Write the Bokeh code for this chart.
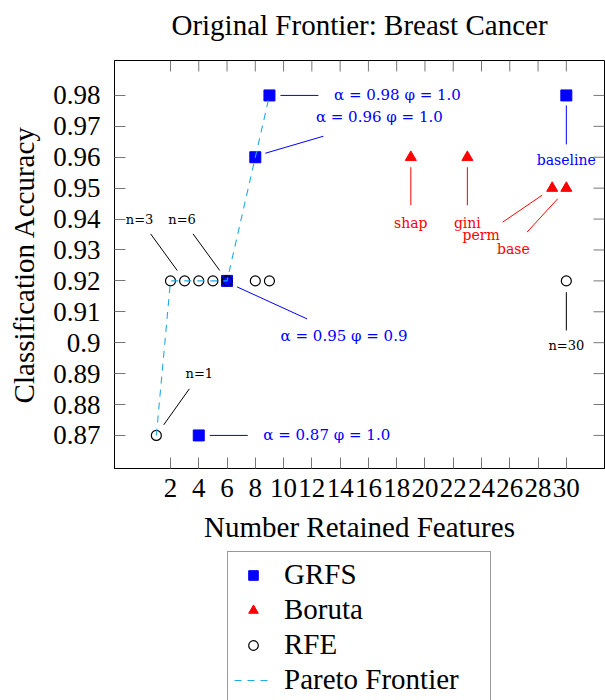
from bokeh.plotting import figure
from bokeh.layouts import column
from bokeh.models import (Range1d, FixedTicker, CustomJSTickFormatter,
                          Legend, LegendItem, Label, ColumnDataSource)
from bokeh.embed import file_html
from bokeh.resources import INLINE

# ---------------- data ----------------
grfs_x = [9, 8, 6, 4, 30]
grfs_y = [0.98, 0.96, 0.92, 0.87, 0.98]

boruta_x = [19, 23, 29, 30]
boruta_y = [0.96, 0.96, 0.95, 0.95]

rfe_x = [1, 2, 3, 4, 5, 6, 8, 9, 30]
rfe_y = [0.87, 0.92, 0.92, 0.92, 0.92, 0.92, 0.92, 0.92, 0.92]

pareto_x = [1, 2, 3, 4, 5, 6, 8, 9]
pareto_y = [0.87, 0.92, 0.92, 0.92, 0.92, 0.92, 0.96, 0.98]

x_ticks = [2, 4, 6, 8, 10, 12, 14, 16, 18, 20, 22, 24, 26, 28, 30]
y_ticks = [0.87, 0.88, 0.89, 0.90, 0.91, 0.92, 0.93, 0.94, 0.95, 0.96, 0.97, 0.98]

series_names = ["GRFS", "Boruta", "RFE", "Pareto Frontier"]

pin_text = ["α = 0.98 φ = 1.0", "α = 0.96 φ = 1.0", "α = 0.95 φ = 0.9", "α = 0.87 φ = 1.0",
            "baseline", "shap", "gini", "perm", "base", "n=3", "n=6", "n=1", "n=30"]
pin_x = [9, 8, 6, 4, 30, 19, 23, 29, 30, 3, 6, 1, 30]
pin_y = [0.98, 0.96, 0.92, 0.87, 0.98, 0.96, 0.96, 0.95, 0.95, 0.92, 0.92, 0.87, 0.92]

# ---------------- style ----------------
BLUE = "#0000FF"
RED = "#FF0000"
CYAN = "#22AAE6"
TICK = "#777777"
SERIF = "Liberation Serif"
ANN_FONT = "DejaVu Serif"

pin_color = [BLUE] * 5 + [RED] * 4 + ["black"] * 4
pin_size = ["15px"] * 4 + ["14px"] * 5 + ["13px"] * 4
# pin offsets in screen pixels (x right, y down): line start, line end, text centre
pin_geom = [
    (11, 0, 49, 0, 128, 0),
    (10, -4, 68, -21, 124, -40),
    (10, 6, 80, 38, 117, 55),
    (11, 0, 49, 0, 128, 0),
    (0, 10, 0, 49, 0, 65),
    (0, 10, 0, 48, 0, 66),
    (0, 10, 0, 48, 0, 66),
    (-10, 7, -49.5, 34, -71, 47),
    (-8.6, 10.6, -39.3, 44, -53, 61),
    (-7.4, -10.4, -34, -47, -45, -61),
    (-7.3, -10.4, -34, -47, -45, -61),
    (7.4, -10.6, 33, -46.6, 43, -62),
    (0, 11.3, 0, 49.6, 0, 65),
]

W = 605
TITLE_H, MAIN_H, LEG_H = 60, 490, 150
BL, BR, BT, BB = 114, 1, 0, 82
X0, X1 = -1.96, 32.7
Y0, Y1 = 0.8593, 0.9913
FW, FH = W - BL - BR, MAIN_H - BT - BB
sx = FW / (X1 - X0)
sy = FH / (Y1 - Y0)
TL = 11  # tick length in px

# ---------------- title strip ----------------
pt = figure(width=W, height=TITLE_H, output_backend="svg", toolbar_location=None,
            x_axis_location=None, y_axis_location=None,
            min_border_left=BL, min_border_right=BR, min_border_top=0, min_border_bottom=0,
            title="Original Frontier: Breast Cancer")
pt.outline_line_color = None
pt.xgrid.visible = False
pt.ygrid.visible = False
pt.title.text_font = SERIF
pt.title.text_font_size = "29px"
pt.title.text_font_style = "normal"
pt.title.align = "center"
pt.title.text_color = "black"
pt.title.standoff = 12

# ---------------- main plot ----------------
p = figure(width=W, height=MAIN_H,
           x_range=Range1d(X0, X1), y_range=Range1d(Y0, Y1),
           output_backend="svg", toolbar_location=None,
           min_border_left=BL, min_border_right=BR, min_border_top=BT, min_border_bottom=BB)
p.background_fill_color = "white"
p.border_fill_color = "white"
p.outline_line_color = "black"
p.xgrid.visible = False
p.ygrid.visible = False

for ax in (p.xaxis[0], p.yaxis[0]):
    ax.major_tick_in = TL
    ax.major_tick_out = 0
    ax.minor_tick_line_color = None
    ax.major_tick_line_color = TICK
    ax.axis_line_color = "black"
    ax.major_label_text_font = SERIF
    ax.major_label_text_color = "black"
    ax.major_label_text_font_size = "27px"
    ax.axis_label_text_font = SERIF
    ax.axis_label_text_font_style = "normal"
    ax.axis_label_text_color = "black"
    ax.axis_label_text_font_size = "29px"

xa = p.xaxis[0]
ya = p.yaxis[0]
xa.ticker = FixedTicker(ticks=x_ticks)
ya.ticker = FixedTicker(ticks=y_ticks)
ya.formatter = CustomJSTickFormatter(code="return (+tick.toFixed(2)).toString();")
xa.major_label_standoff = 10
ya.major_label_standoff = 14
xa.axis_label = "Number Retained Features"
ya.axis_label = "Classification Accuracy"
xa.axis_label_standoff = 11
ya.axis_label_standoff = 10

# mirrored ticks on top and right edges
p.segment(x0=x_ticks, y0=[Y1] * len(x_ticks), x1=x_ticks, y1=[Y1 - TL / sy] * len(x_ticks),
          line_color=TICK, line_width=1)
p.segment(x0=[X1] * len(y_ticks), y0=y_ticks, x1=[X1 - TL / sx] * len(y_ticks), y1=y_ticks,
          line_color=TICK, line_width=1)

# ---------------- marks ----------------
grfs_style = dict(marker="square", size=11, fill_color=BLUE, line_color=BLUE)
bor_style = dict(marker="triangle", size=11, fill_color=RED, line_color=RED)
rfe_style = dict(marker="circle", size=10, fill_color=None, line_color="black", line_width=1.2)
par_style = dict(line_color=CYAN, line_width=1.1, line_dash="7 6")

p.scatter(grfs_x, grfs_y, **grfs_style)
p.scatter(boruta_x, boruta_y, **bor_style)
p.scatter(rfe_x, rfe_y, **rfe_style)
p.line(pareto_x, pareto_y, **par_style)

# ---------------- pins ----------------
seg = dict(x0=[], y0=[], x1=[], y1=[], c=[])
for t, ax_, ay_, col, fs, g in zip(pin_text, pin_x, pin_y, pin_color, pin_size, pin_geom):
    lx0, ly0, lx1, ly1, tx, ty = g
    seg["x0"].append(ax_ + lx0 / sx)
    seg["y0"].append(ay_ - ly0 / sy)
    seg["x1"].append(ax_ + lx1 / sx)
    seg["y1"].append(ay_ - ly1 / sy)
    seg["c"].append(col)
    p.add_layout(Label(x=ax_, y=ay_, x_offset=tx, y_offset=-ty, text=t,
                       text_font=ANN_FONT, text_font_size=fs, text_color=col,
                       text_align="center", text_baseline="middle"))
p.segment(x0="x0", y0="y0", x1="x1", y1="y1", line_color="c", line_width=1,
          source=ColumnDataSource(seg))

# ---------------- legend strip ----------------
# the series are drawn again here only to give the legend its glyphs; the
# ranges keep them out of view
pl = figure(width=W, height=LEG_H, output_backend="svg", toolbar_location=None,
            x_axis_location=None, y_axis_location=None,
            x_range=Range1d(100, 101), y_range=Range1d(100, 101),
            min_border_left=BL, min_border_right=BR, min_border_top=0, min_border_bottom=0)
pl.outline_line_color = None
pl.xgrid.visible = False
pl.ygrid.visible = False
lg_grfs = pl.scatter(grfs_x, grfs_y, **grfs_style)
lg_bor = pl.scatter(boruta_x, boruta_y, **bor_style)
lg_rfe = pl.scatter(rfe_x, rfe_y, **rfe_style)
lg_par = pl.line(pareto_x, pareto_y, **par_style)

legend = Legend(items=[LegendItem(label=n, renderers=[r]) for n, r in
                       zip(series_names, [lg_grfs, lg_bor, lg_rfe, lg_par])],
                location="top_center", orientation="vertical",
                label_text_font=SERIF, label_text_font_size="29px", label_text_color="black",
                label_height=30, label_width=200, glyph_height=24, glyph_width=38,
                label_standoff=12, spacing=2, padding=6, margin=1,
                border_line_color="#333333", border_line_width=1,
                background_fill_color="white", background_fill_alpha=1)
pl.add_layout(legend, "center")

layout = column(pt, p, pl, spacing=0)
open("out.html", "w").write(file_html(layout, INLINE))
